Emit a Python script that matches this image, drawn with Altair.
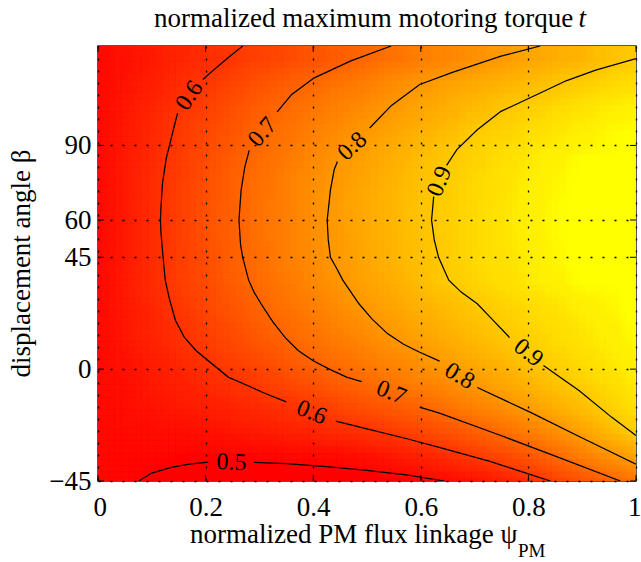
import altair as alt
import pandas as pd

# ---- heat-map grid ----
psi = [0.0, 0.05, 0.10, 0.15, 0.20, 0.25, 0.30, 0.35, 0.40, 0.45, 0.50,
       0.55, 0.60, 0.65, 0.70, 0.75, 0.80, 0.85, 0.90, 0.95, 1.0]
beta = [-45, -35, -25, -15, -5, 5, 15, 25, 35, 45, 55, 65, 75, 85, 95, 105, 115, 125]

t_m45 = [0.510, 0.504, 0.499, 0.494, 0.491, 0.489, 0.488, 0.488, 0.489, 0.491, 0.494, 0.498, 0.504, 0.517, 0.535, 0.558, 0.590, 0.627, 0.662, 0.697, 0.730]
t_m35 = [0.510, 0.507, 0.505, 0.503, 0.503, 0.503, 0.504, 0.506, 0.510, 0.517, 0.528, 0.545, 0.565, 0.588, 0.610, 0.640, 0.670, 0.706, 0.748, 0.789, 0.825]
t_m25 = [0.510, 0.514, 0.519, 0.525, 0.532, 0.540, 0.550, 0.561, 0.573, 0.586, 0.597, 0.615, 0.639, 0.663, 0.687, 0.714, 0.749, 0.783, 0.822, 0.866, 0.909]
t_m15 = [0.510, 0.522, 0.534, 0.547, 0.559, 0.571, 0.583, 0.596, 0.614, 0.636, 0.657, 0.679, 0.701, 0.729, 0.757, 0.784, 0.814, 0.847, 0.880, 0.914, 0.950]
t_m05 = [0.510, 0.527, 0.545, 0.562, 0.580, 0.597, 0.619, 0.642, 0.665, 0.688, 0.711, 0.735, 0.758, 0.782, 0.806, 0.834, 0.861, 0.889, 0.916, 0.943, 0.970]
t_p05 = [0.510, 0.533, 0.556, 0.579, 0.602, 0.628, 0.653, 0.679, 0.704, 0.727, 0.750, 0.773, 0.796, 0.820, 0.845, 0.870, 0.895, 0.919, 0.941, 0.964, 0.986]
t_p15 = [0.510, 0.538, 0.567, 0.595, 0.623, 0.651, 0.678, 0.705, 0.731, 0.756, 0.782, 0.807, 0.830, 0.852, 0.875, 0.898, 0.918, 0.938, 0.958, 0.978, 0.998]
t_p25 = [0.510, 0.543, 0.575, 0.607, 0.637, 0.667, 0.696, 0.724, 0.752, 0.779, 0.805, 0.828, 0.851, 0.873, 0.896, 0.915, 0.935, 0.954, 0.973, 0.990, 1.007]
t_p35 = [0.510, 0.546, 0.582, 0.616, 0.648, 0.681, 0.711, 0.740, 0.769, 0.797, 0.823, 0.848, 0.873, 0.899, 0.921, 0.943, 0.964, 0.984, 1.002, 1.019, 1.036]
t_p45 = [0.510, 0.547, 0.584, 0.620, 0.653, 0.687, 0.719, 0.750, 0.780, 0.809, 0.834, 0.859, 0.884, 0.908, 0.929, 0.950, 0.970, 0.990, 1.008, 1.025, 1.041]
t_p55 = [0.510, 0.548, 0.587, 0.623, 0.657, 0.692, 0.723, 0.754, 0.784, 0.812, 0.838, 0.863, 0.888, 0.912, 0.933, 0.954, 0.975, 0.994, 1.012, 1.029, 1.045]
t_p65 = [0.510, 0.548, 0.587, 0.623, 0.657, 0.692, 0.723, 0.754, 0.785, 0.813, 0.838, 0.863, 0.889, 0.912, 0.933, 0.954, 0.975, 0.994, 1.012, 1.029, 1.045]
t_p75 = [0.510, 0.548, 0.585, 0.620, 0.654, 0.688, 0.720, 0.750, 0.781, 0.809, 0.834, 0.859, 0.884, 0.908, 0.929, 0.950, 0.971, 0.990, 1.008, 1.025, 1.042]
t_p85 = [0.510, 0.545, 0.581, 0.615, 0.649, 0.682, 0.713, 0.741, 0.770, 0.798, 0.822, 0.848, 0.873, 0.898, 0.919, 0.940, 0.962, 0.983, 1.000, 1.018, 1.035]
t_p95 = [0.510, 0.543, 0.576, 0.608, 0.639, 0.669, 0.700, 0.727, 0.755, 0.782, 0.808, 0.831, 0.854, 0.878, 0.901, 0.919, 0.937, 0.956, 0.974, 0.993, 1.011]
t_p105 = [0.510, 0.539, 0.568, 0.597, 0.625, 0.654, 0.683, 0.710, 0.733, 0.757, 0.781, 0.805, 0.827, 0.848, 0.870, 0.892, 0.912, 0.932, 0.951, 0.970, 0.988]
t_p115 = [0.510, 0.534, 0.559, 0.583, 0.607, 0.632, 0.656, 0.680, 0.705, 0.729, 0.752, 0.776, 0.800, 0.818, 0.836, 0.854, 0.872, 0.891, 0.908, 0.925, 0.941]
t_p125 = [0.510, 0.529, 0.547, 0.566, 0.585, 0.604, 0.624, 0.643, 0.663, 0.683, 0.703, 0.724, 0.744, 0.765, 0.786, 0.806, 0.825, 0.843, 0.862, 0.881, 0.900]

t_rows = [t_m45, t_m35, t_m25, t_m15, t_m05, t_p05, t_p15, t_p25, t_p35,
          t_p45, t_p55, t_p65, t_p75, t_p85, t_p95, t_p105, t_p115, t_p125]

# ---- contour lines (x, y, segment) ----
c05_x = [0.076, 0.10, 0.136, 0.17, 0.205,   0.29, 0.35, 0.424, 0.50, 0.576, 0.644]
c05_y = [-45, -41.8, -39.5, -38.2, -37.4,   -37.5, -38.0, -39.2, -40.7, -42.6, -45]
c05_s = [0, 0, 0, 0, 0,   1, 1, 1, 1, 1, 1]

c06_x = [0.269, 0.24, 0.213, 0.195,
         0.148, 0.140, 0.133, 0.127, 0.120, 0.117, 0.116, 0.117, 0.121, 0.125, 0.133, 0.144, 0.160, 0.182, 0.200, 0.242, 0.280, 0.311, 0.350,
         0.442, 0.50, 0.576, 0.636, 0.727, 0.841]
c06_y = [130, 125, 120, 116.5,
         103, 96.3, 90, 85, 75, 65, 60, 55, 45, 35.8, 28, 19.6, 13, 7.5, 4.3, -3.2, -6.8, -9.8, -13.2,
         -20.9, -24.0, -28.1, -31.6, -37.0, -45]
c06_s = [0] * 4 + [1] * 19 + [2] * 6

c07_x = [0.545, 0.47, 0.402, 0.36, 0.333,
         0.281, 0.273, 0.266, 0.262, 0.265, 0.269, 0.280, 0.290, 0.303, 0.325, 0.348, 0.372, 0.400, 0.430, 0.462, 0.490,
         0.598, 0.636, 0.75, 0.85, 0.971]
c07_y = [130, 124, 117.2, 110.5, 103.5,
         88, 81.5, 72, 60, 50, 45, 35.8, 31, 26.3, 19, 12.7, 7.5, 3.4, 0, -3.2, -5.0,
         -15.3, -17.8, -26.8, -35, -45]
c07_s = [0] * 5 + [1] * 16 + [2] * 5

c08_x = [0.822, 0.749, 0.66, 0.598, 0.545, 0.505,
         0.445, 0.439, 0.432, 0.426, 0.428, 0.432, 0.445, 0.455, 0.485, 0.510, 0.538, 0.568, 0.598, 0.635,
         0.705, 0.803, 0.90, 1.0]
c08_y = [130, 125.9, 119.5, 114.5, 106, 97,
         83.5, 80.2, 72, 60, 52, 45, 40, 35.8, 26.3, 20, 14.3, 10, 6.8, 3.2,
         -7.4, -17.3, -27.7, -38.2]
c08_s = [0] * 6 + [1] * 14 + [2] * 4

c09_x = [1.0, 0.925, 0.87, 0.822, 0.749, 0.705, 0.667, 0.648,
         0.624, 0.620, 0.625, 0.633, 0.652, 0.675, 0.705, 0.735, 0.765,
         0.828, 0.894, 0.955, 1.0]
c09_y = [124.9, 120.3, 116, 111.1, 103.7, 96.3, 88.3, 82,
         69.4, 60, 52, 45, 35.8, 31, 26.3, 19.5, 12.7,
         1.5, -8.6, -19.4, -26.7]
c09_s = [0] * 8 + [1] * 9 + [2] * 4

# ---- contour labels ----
lab_text = ["0.5", "0.6", "0.6", "0.7", "0.7", "0.8", "0.8", "0.9", "0.9"]
lab_x = [0.248, 0.170, 0.397, 0.306, 0.545, 0.473, 0.672, 0.635, 0.800]
lab_y = [-37.6, 110.0, -17.5, 95.3, -9.5, 89.6, -2.8, 75.5, 6.5]
lab_angle = [2, 304, 22, 311, 22, 317, 31, 292, 39]

# ---- axis ticks ----
x_ticks = [0, 0.2, 0.4, 0.6, 0.8, 1.0]
y_ticks = [-45, 0, 45, 60, 90]

W, H = 538, 435
FONT = "Liberation Serif"
DX, DY = 0.05, 10.0

cells = []
for yb, row in zip(beta, t_rows):
    for xp, tv in zip(psi, row):
        cells.append({"xc": xp, "yc": yb, "t": tv})
cells = pd.DataFrame(cells)

cont = []
for lvl, xs_, ys_, ss_ in [(0.5, c05_x, c05_y, c05_s), (0.6, c06_x, c06_y, c06_s),
                           (0.7, c07_x, c07_y, c07_s), (0.8, c08_x, c08_y, c08_s),
                           (0.9, c09_x, c09_y, c09_s)]:
    for i, (a, b, s) in enumerate(zip(xs_, ys_, ss_)):
        cont.append({"x": a, "y": b, "seg": f"{lvl}-{s}", "i": i})
cont = pd.DataFrame(cont)

labs = pd.DataFrame({"text": lab_text, "x": lab_x, "y": lab_y, "angle": lab_angle})

xs = alt.Scale(domain=[0, 1], nice=False, zero=False)
ys = alt.Scale(domain=[-45, 130], nice=False, zero=False)
tmin = float(cells["t"].min())
cs = alt.Scale(domain=[tmin, 1.0], range=["#ff0000", "#ffff00"], interpolate="rgb", clamp=True)

xaxis = alt.Axis(values=x_ticks, format="~g", title=None, grid=True,
                 gridDash=[2, 10], gridColor="black", gridOpacity=1, gridWidth=1.3,
                 ticks=False, domain=False, labelPadding=13, labelFlush=True,
                 labelFlushOffset=5, zindex=1)
yaxis = alt.Axis(values=y_ticks, title=None, grid=True,
                 gridDash=[2, 10], gridColor="black", gridOpacity=1, gridWidth=1.3,
                 ticks=False, domain=False, labelPadding=7, labelFlush=False, zindex=1)


def heat_layer(ox, oy, opacity, stroke):
    ch = alt.Chart(cells).mark_rect(clip=True, fillOpacity=opacity,
                                    strokeWidth=0.7 if stroke else 0).transform_calculate(
        xa=f"datum.xc - {DX / 2} + {ox * DX}",
        xb=f"datum.xc + {DX / 2} + {ox * DX}",
        ya=f"datum.yc - {DY / 2} + {oy * DY}",
        yb=f"datum.yc + {DY / 2} + {oy * DY}",
    )
    enc = dict(
        x=alt.X("xa:Q", scale=xs, axis=xaxis),
        x2="xb:Q",
        y=alt.Y("ya:Q", scale=ys, axis=yaxis),
        y2="yb:Q",
        fill=alt.Fill("t:Q", scale=cs, legend=None),
    )
    if stroke:
        enc["stroke"] = alt.Stroke("t:Q", scale=cs, legend=None)
    return ch.encode(**enc)


# base layer, then equally-weighted shifted copies (smooth shading of the same cells)
heat_layers = [heat_layer(0, 0, 1.0, True)]
shifts = [-0.375, -0.125, 0.125, 0.375]
k = 1
for sx in shifts:
    for sy in shifts:
        k += 1
        heat_layers.append(heat_layer(sx, sy, 1.0 / k, False))

lines = alt.Chart(cont).mark_line(color="black", strokeWidth=1.25, clip=True).encode(
    x=alt.X("x:Q", scale=xs, axis=xaxis),
    y=alt.Y("y:Q", scale=ys, axis=yaxis),
    detail="seg:N",
    order="i:Q",
)

labels = alt.Chart(labs).mark_text(font=FONT, fontSize=24, color="black",
                                   align="center", baseline="middle").encode(
    x=alt.X("x:Q", scale=xs, axis=xaxis),
    y=alt.Y("y:Q", scale=ys, axis=yaxis),
    text="text:N",
    angle=alt.Angle("angle:Q", scale=None),
)

xt = pd.DataFrame({"v": x_ticks})
yt = pd.DataFrame({"v": y_ticks})
tick_b = alt.Chart(xt).mark_rule(color="black", strokeWidth=1).encode(
    x=alt.X("v:Q", scale=xs, axis=xaxis), y=alt.value(H), y2=alt.value(H - 6))
tick_t = alt.Chart(xt).mark_rule(color="black", strokeWidth=1).encode(
    x=alt.X("v:Q", scale=xs, axis=xaxis), y=alt.value(0), y2=alt.value(6))
tick_l = alt.Chart(yt).mark_rule(color="black", strokeWidth=1).encode(
    y=alt.Y("v:Q", scale=ys, axis=yaxis), x=alt.value(0), x2=alt.value(6))
tick_r = alt.Chart(yt).mark_rule(color="black", strokeWidth=1).encode(
    y=alt.Y("v:Q", scale=ys, axis=yaxis), x=alt.value(W), x2=alt.value(W - 6))

title_main = alt.Chart().mark_text(text="normalized maximum motoring torque", font=FONT,
                                   fontSize=27, align="left", baseline="alphabetic",
                                   color="black").encode(x=alt.value(56), y=alt.value(-19))
title_t = alt.Chart().mark_text(text="t", font=FONT, fontSize=27, fontStyle="italic",
                                align="right", baseline="alphabetic",
                                color="black").encode(x=alt.value(488), y=alt.value(-19))
xlab_main = alt.Chart().mark_text(text="normalized PM flux linkage ψ", font=FONT, fontSize=27,
                                  align="left", baseline="alphabetic",
                                  color="black").encode(x=alt.value(92), y=alt.value(497))
xlab_sub = alt.Chart().mark_text(text="PM", font=FONT, fontSize=19, align="left",
                                 baseline="alphabetic",
                                 color="black").encode(x=alt.value(420), y=alt.value(511))
ylab = alt.Chart().mark_text(text="displacement angle β", font=FONT, fontSize=27, angle=270,
                             align="center", baseline="middle",
                             color="black").encode(x=alt.value(-76), y=alt.value(H / 2))

chart = alt.layer(
    *heat_layers, lines, labels, tick_b, tick_t, tick_l, tick_r,
    title_main, title_t, xlab_main, xlab_sub, ylab,
).properties(
    width=W, height=H,
    autosize=alt.AutoSizeParams(type="none"),
    padding={"left": 98, "top": 46, "right": 5, "bottom": 81},
    background="white",
).configure_view(
    stroke="#222222", strokeWidth=1.5
).configure_axis(
    labelFont=FONT, labelFontSize=27, labelColor="black"
)

chart.save("out.html", embed_options={"renderer": "svg", "actions": False})
